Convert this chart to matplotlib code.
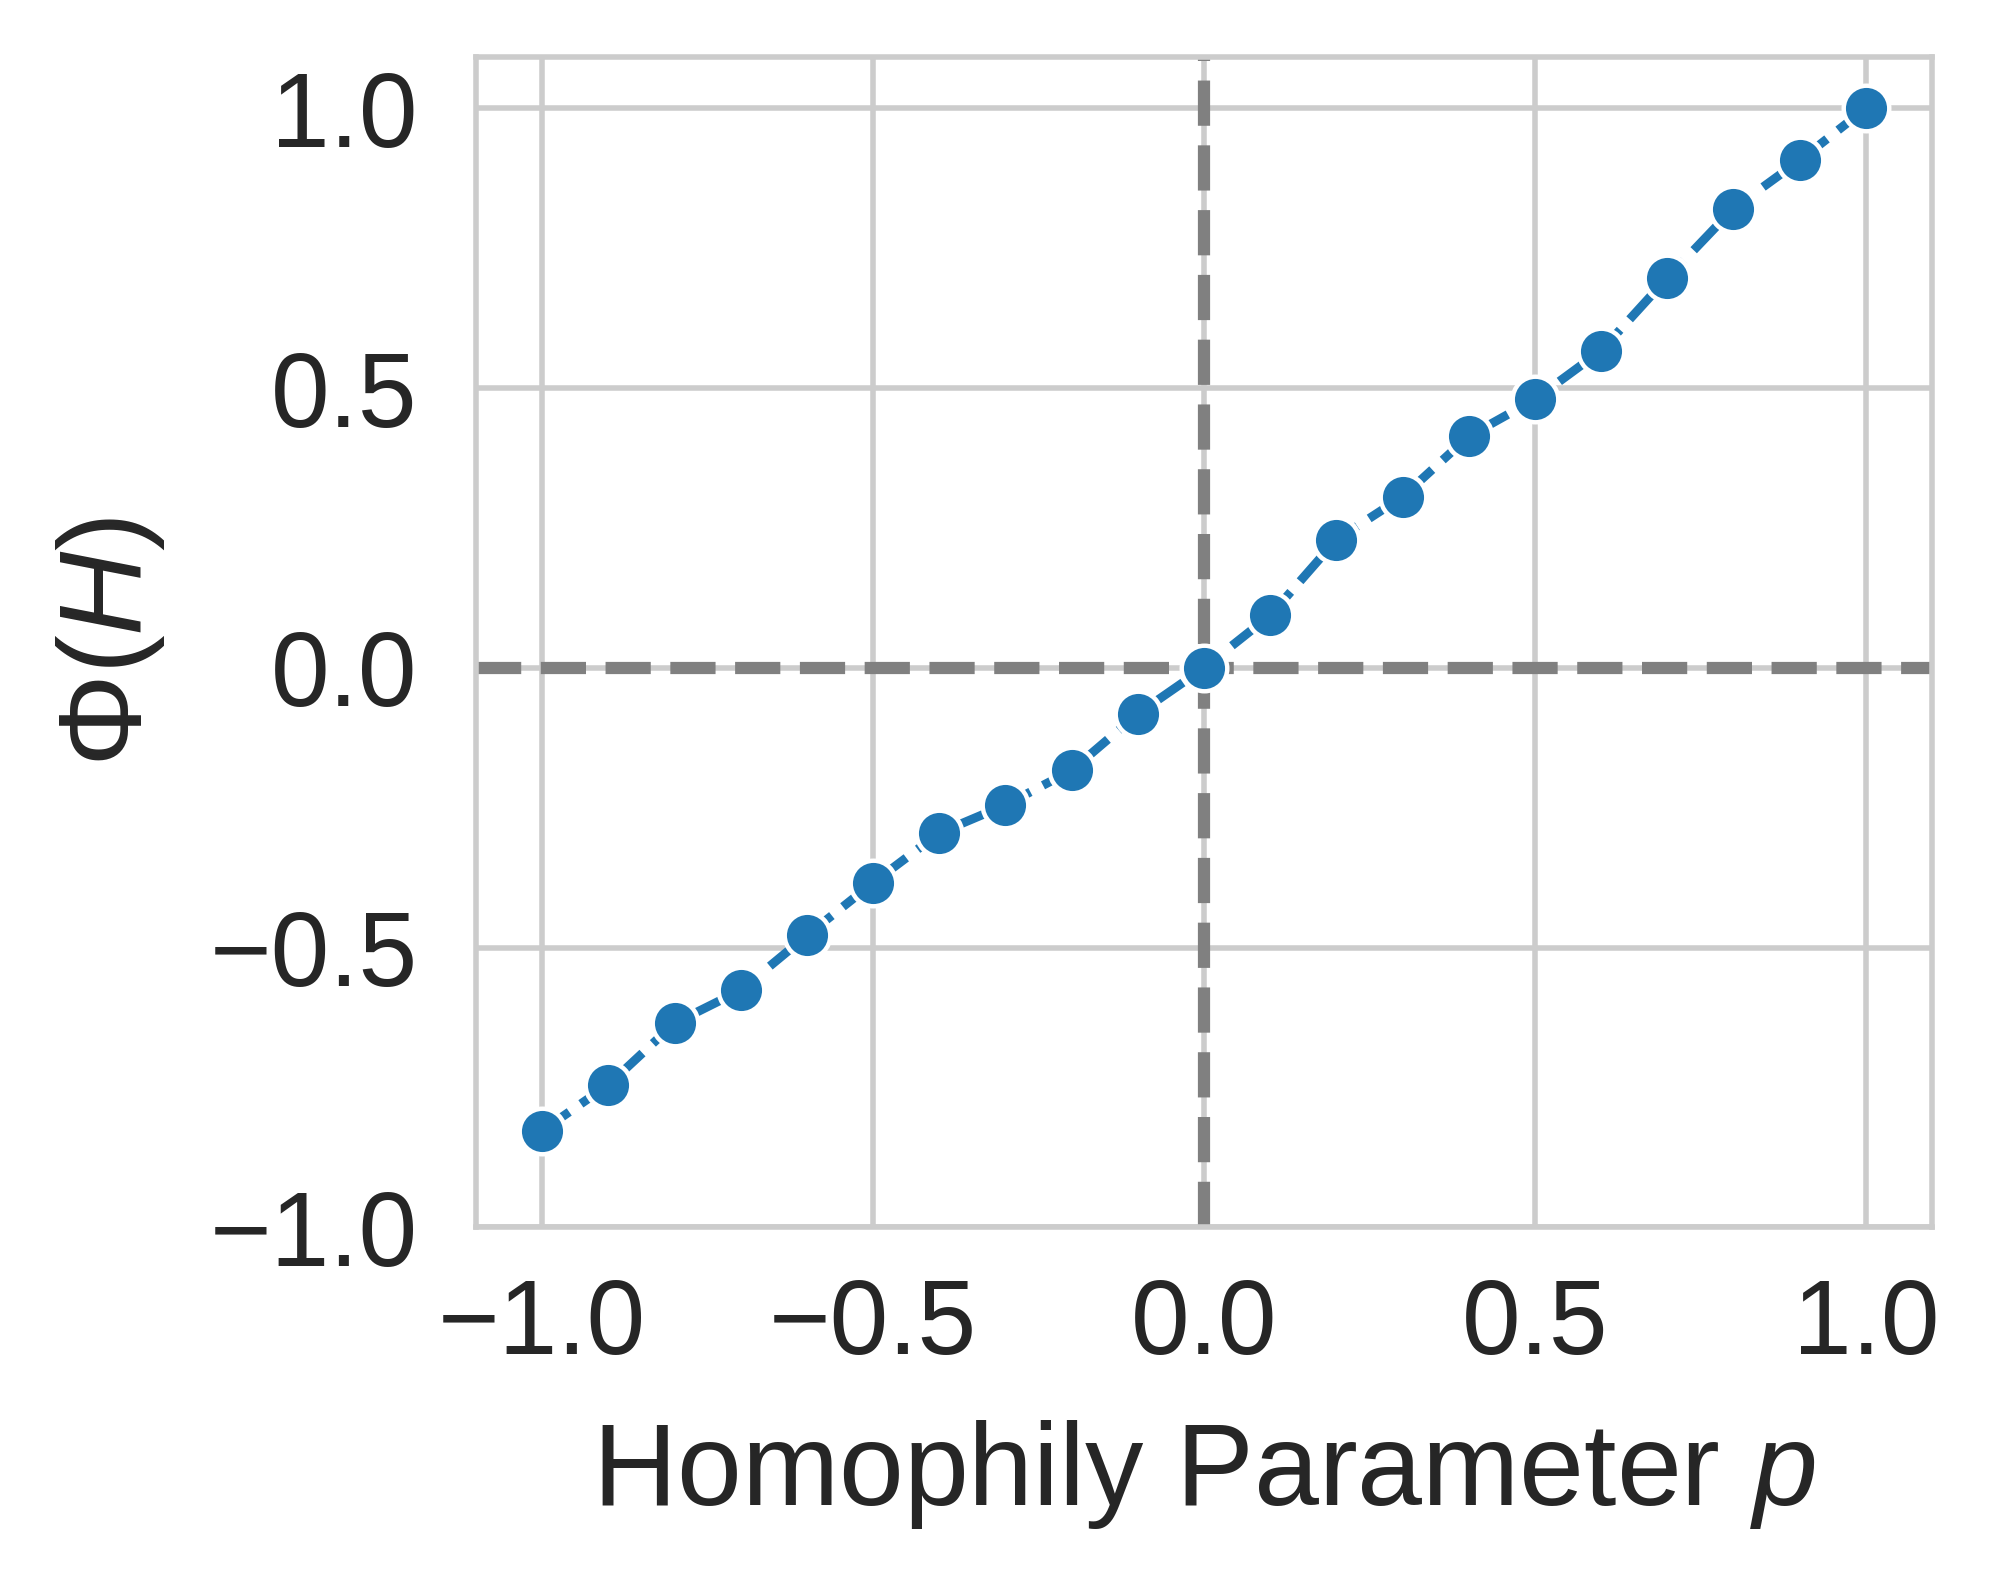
import matplotlib
matplotlib.use('Agg')
import matplotlib.pyplot as plt
import seaborn as sns
import numpy as np

# homophily parameter p and measured Phi(H)
p_values = [-1.0, -0.9, -0.8, -0.7, -0.6, -0.5, -0.4, -0.3, -0.2, -0.1, 0.0,
            0.1, 0.2, 0.3, 0.4, 0.5, 0.6, 0.7, 0.8, 0.9, 1.0]
phi_values = [-0.827, -0.745, -0.635, -0.576, -0.478, -0.384, -0.295, -0.245,
              -0.183, -0.082, 0.0, 0.094, 0.229, 0.306, 0.414, 0.48, 0.567,
              0.697, 0.821, 0.907, 1.0]
tick_vals = [-1.0, -0.5, 0.0, 0.5, 1.0]

sns.set_style('whitegrid')
plt.rcParams['font.family'] = ['Liberation Sans', 'DejaVu Sans']
plt.rcParams['mathtext.fontset'] = 'custom'
plt.rcParams['mathtext.rm'] = 'Liberation Sans'
plt.rcParams['mathtext.it'] = 'Liberation Sans:italic'

fig = plt.figure(figsize=(5, 3.975), dpi=400)
ax = fig.add_axes([0.238, 0.228, 0.728, 0.736])

ax.plot(p_values, phi_values, linestyle='--', color='#1f77b4', lw=1.6,
        marker='o', markersize=8.2, markeredgecolor='white',
        markeredgewidth=0.8, zorder=3)
ax.axhline(0, color='gray', linestyle='--', lw=2.2, zorder=2)
ax.axvline(0, color='gray', linestyle='--', lw=2.2, zorder=2)

ax.set_xlim(-1.1, 1.1)
ax.set_ylim(-1.0, 1.0914)
ax.set_xticks(tick_vals)
ax.set_yticks(tick_vals)
ax.tick_params(labelsize=19, colors='#262626')
ax.tick_params(axis='x', pad=5.5)
ax.tick_params(axis='y', pad=7)
for s in ax.spines.values():
    s.set_color('#cccccc')
    s.set_linewidth(1.0)
ax.grid(color='#cccccc', lw=1.0)

ax.set_xlabel('Homophily Parameter $p$', fontsize=21, color='#262626', labelpad=7.5)
ax.set_ylabel(r'$\Phi(H)$', fontsize=21, color='#262626', labelpad=7.7)

fig.savefig('out.png', dpi=400)
